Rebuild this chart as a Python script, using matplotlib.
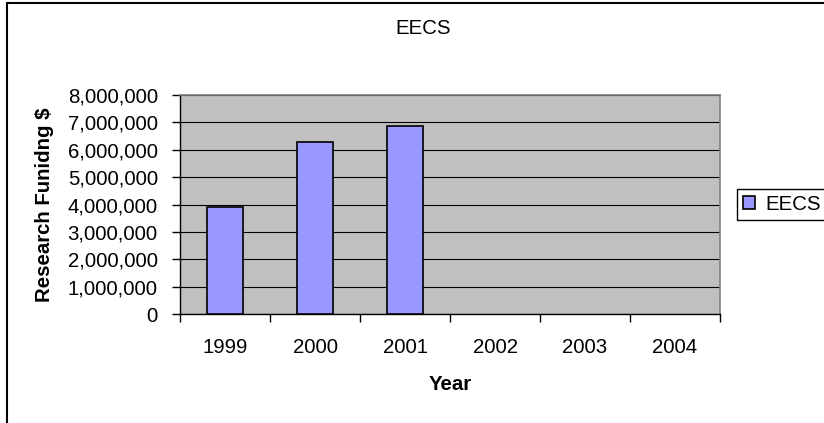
import matplotlib as mpl
mpl.use('Agg')

import matplotlib.pyplot as plt
from matplotlib.patches import Rectangle
from matplotlib.ticker import FuncFormatter, MultipleLocator

plt.rcParams['font.family'] = ['Liberation Sans', 'DejaVu Sans']

# data
years = ['1999', '2000', '2001', '2002', '2003', '2004']
funding = [3900000, 6300000, 6860000]  # no figures yet for 2002-2004
series_name = 'EECS'

W, H = 824, 423
fig = plt.figure(figsize=(W / 100, H / 100), dpi=100)

# plot area in pixel terms: x 180..720, y 95..314
left, right, top, bottom = 180, 720, 95, 314
ax = fig.add_axes([left / W, 1 - bottom / H, (right - left) / W, (bottom - top) / H])
ax.set_facecolor('#C0C0C0')

pos = list(range(len(years)))
ax.bar(pos[:len(funding)], funding, width=0.41, color='#9999FF',
       edgecolor='black', linewidth=1.2, label=series_name, zorder=3)

ax.set_xlim(-0.5, len(years) - 0.5)
ax.set_ylim(0, 8000000)
ax.yaxis.set_major_locator(MultipleLocator(1000000))
ax.yaxis.set_major_formatter(FuncFormatter(lambda v, p: f'{int(v):,}'))
ax.grid(axis='y', color='black', linewidth=0.8, zorder=1)
ax.set_axisbelow(True)

# category labels in the middle, tick marks on the boundaries
ax.set_xticks(pos)
ax.set_xticklabels(years)
ax.set_xticks([p - 0.5 for p in pos] + [len(years) - 0.5], minor=True)
ax.tick_params(axis='x', which='major', length=0, pad=17, labelsize=14.7)
ax.tick_params(axis='x', which='minor', length=6, width=1, direction='out', color='black')
ax.tick_params(axis='y', length=6, width=1, direction='out', pad=10, labelsize=14.7)

for s in ['top', 'right']:
    ax.spines[s].set_color('#808080')
    ax.spines[s].set_linewidth(1.2)
for s in ['left', 'bottom']:
    ax.spines[s].set_color('black')
    ax.spines[s].set_linewidth(1)

ax.set_xlabel('Year', fontsize=14.7, fontweight='bold', va='center')
ax.xaxis.set_label_coords(0.5, (bottom - 385) / (bottom - top))
ax.set_ylabel('Research Funidng $', fontsize=14.7, fontweight='bold', ha='center', va='center')
ax.yaxis.set_label_coords((45 - left) / (right - left), 0.5)

fig.text(423 / W, 1 - 29 / H, 'EECS', ha='center', va='center', fontsize=14.7)

fig.legend(loc='center left', bbox_to_anchor=(737 / W, 1 - 204.5 / H),
           fontsize=14.7, frameon=True, fancybox=False, edgecolor='black',
           framealpha=1, borderpad=0.3, handlelength=0.6, handleheight=0.6,
           handletextpad=0.5, borderaxespad=0).get_frame().set_linewidth(1)

# chart border
fig.add_artist(Rectangle((7 / W, -0.1), 2, 1 - 3 / H + 0.1, transform=fig.transFigure,
                         fill=False, edgecolor='black', linewidth=1.5))

fig.savefig('out.png', dpi=100)
